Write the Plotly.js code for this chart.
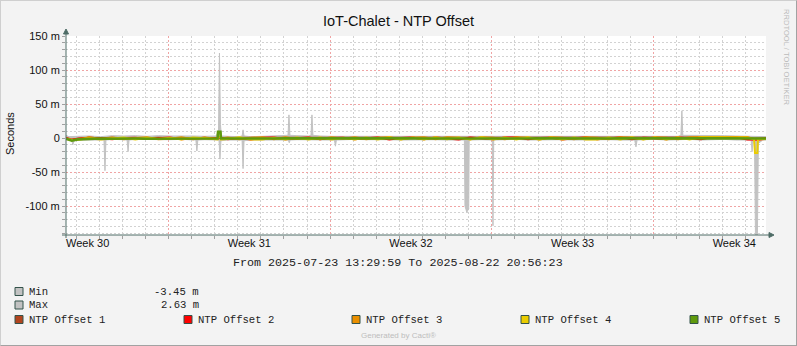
<!DOCTYPE html>
<html><head><meta charset="utf-8">
<script src="https://cdn.plot.ly/plotly-3.0.1.min.js"></script>
<style>
html,body{margin:0;padding:0;background:#f3f3f3;}
#wrap{position:relative;width:797px;height:346px;overflow:hidden;}
#chart{width:797px;height:346px;}
#frame{position:absolute;left:0;top:0;width:797px;height:346px;box-sizing:border-box;border:1px solid #cfcfcf;border-right-color:#a2a2a2;border-bottom-color:#a2a2a2;pointer-events:none;}
</style>
</head><body>
<div id="wrap"><div id="chart"></div><div id="frame"></div></div>
<script>
// ---------------- data ----------------
const startTime = '2025-07-23 13:29:59';
const endTime   = '2025-08-22 20:56:23';
const titleText = 'IoT-Chalet - NTP Offset';
const yTitle = 'Seconds';
const periodText = 'From 2025-07-23 13:29:59 To 2025-08-22 20:56:23';

const weekStart  = '2025-07-21';
const weekMid    = ['2025-07-24 12:00', '2025-07-31 12:00', '2025-08-07 12:00', '2025-08-14 12:00', '2025-08-21 12:00'];
const weekLabels = ['Week 30', 'Week 31', 'Week 32', 'Week 33', 'Week 34'];

const yTickVals = [-100, -50, 0, 50, 100, 150];          // milli-seconds
const yTickText = ['-100 m', '-50 m', '0', '50 m', '100 m', '150 m'];

// hours after startTime; values in milli-seconds
const maxHours = [0, 3, 12, 24, 36, 48, 60, 72, 84, 96, 108, 120, 132, 144, 156, 158.5, 159.5, 160.5, 161.5, 168,
  180, 183, 184, 185, 192, 204, 216, 228, 230.7, 231.7, 232.7, 240, 252, 254.6, 255.6, 256.6, 264, 276, 288, 300,
  312, 324, 336, 348, 360, 372, 384, 396, 408, 420, 432, 444, 456, 468, 480, 492, 504, 516, 528, 540,
  552, 564, 576, 588, 600, 612, 624, 636, 639, 640, 641, 648, 660, 672, 684, 696, 708, 720, 727.44];
const maxValues = [4, 2, 2.5, 3, 2, 3.5, 3, 3.5, 2.5, 3.5, 3, 3.5, 3, 2.5, 3, 10, 125, 20, 3, 2.5,
  2, 3, 12, 3, 2, 2.5, 3, 3, 4, 34, 4, 3.5, 3, 4, 34, 4, 3, 2.5, 2.5, 3,
  2, 2.5, 3, 2.5, 3, 2.5, 3, 2.5, 3, 2, 2, 3, 2.5, 2, 3, 2.5, 2, 2.5, 3, 2.5,
  2, 2.5, 2.5, 2, 2.5, 2, 3, 2.5, 4, 40, 4, 4, 4.5, 4, 3.5, 3, 3, 3, 2];

const minHours = [0, 6, 7, 8.5, 12, 24, 36, 39.5, 40.5, 41.5, 48, 60, 63.5, 64.5, 65.5, 72, 84, 96, 108, 120,
  132, 135, 136, 137, 144, 156, 159, 160, 161, 168, 180, 183, 184, 185, 192, 204, 216, 228, 231, 232,
  233, 240, 252, 264, 276, 279, 280, 281, 288, 300, 312, 324, 336, 348, 360, 372, 384, 396, 408, 414,
  414.6, 416.5, 418.5, 419, 432, 443, 443.7, 444.5, 456, 468, 480, 492, 504, 516, 528, 540, 552, 564, 576, 591,
  592.3, 593.5, 600, 612, 624, 636, 648, 660, 672, 684, 696, 708, 712, 713, 714, 715.5, 716.5, 718.5, 719.5, 724, 727.44];
const minValues = [-3, -2, -10, -4, -3, -2.5, -3, -3, -48, -3, -2, -2.5, -3, -20, -3, -2, -2.5, -2, -2.5, -2,
  -3, -3, -19, -3, -2.5, -3, -3, -31, -4, -3, -3, -3, -45, -4, -3, -2.5, -3, -3, -3, -7,
  -3, -2.5, -3, -2.5, -3, -3, -12, -3, -2.5, -2, -2.5, -2, -2.5, -3, -2.5, -3, -2.5, -3, -2.5, -3,
  -100, -109, -104, -3, -2.5, -3, -129, -3, -2.5, -2, -3, -2.5, -3, -2.5, -3, -2.5, -3, -2.5, -3, -3,
  -13, -3, -2.5, -2, -3, -2.5, -2, -3, -2.5, -2, -3, -3, -3, -20, -3, -3, -146, -146, -8, -3, -3];

const lineHours = [0, 6, 12, 24, 36, 48, 60, 72, 84, 96, 108, 120, 132, 144, 156, 157.5, 158, 160.5, 161, 168,
  180, 192, 204, 216, 228, 240, 252, 264, 276, 288, 300, 312, 324, 336, 348, 360, 372, 384, 396, 408,
  420, 432, 444, 456, 468, 480, 492, 504, 516, 528, 540, 552, 564, 576, 588, 600, 612, 624, 636, 648,
  660, 672, 684, 696, 708, 715, 716, 718.5, 719, 727.44];

const ntp1 = [0, -2, -1, 0.3, -0.3, 0.5, -0.2, 0.2, -0.5, 0.3,
  0, -0.3, 0.4, -0.2, 0.2, 0.2, 0.5, 0.5, 0, 0.3,
  -0.2, 0.3, -0.3, 0.2, 0.4, -0.2, 0.3, 0, -0.3, 0.2,
  0.3, -0.2, 0.2, 0, -0.3, 0.4, 0.2, -0.2, 0.3, 0,
  -0.3, 0.2, 0.4, -0.2, 0, 0.3, -0.3, 0.2, 0, 0.3,
  -0.2, 0.3, 0, -0.2, 0.4, 0.2, -0.3, 0, 0.2, 0.3,
  0.8, 1, 0.8, 0.5, 0, -1, -1, -1, -0.5, 0];
const ntp2 = [0.3, -3, -1, 0.5, -0.5, -1.8, 0.2, 0.5, -1.6, -0.2,
  0.6, -1.8, -0.4, 0.5, -1.5, -1.5, 1, 1, 0.2, -1.8,
  0, -2.2, 0.3, 0.6, -1.8, -0.2, 0.6, -1.8, 0, 0.5,
  -1.8, -0.3, 0.6, -2, 0, 0.6, -1.8, 0.7, -0.2, -2.2,
  0.6, -0.2, -1.8, 0.6, 0.7, -1.8, 0, 0.5, -2.2, -0.2,
  0.6, -1.8, 0, 0.7, -1.8, 0.5, -0.2, -1.8, 0.7, 0,
  -1.8, 1.6, 1.8, 1.4, -2.2, -2.8, -3, -3, -2.5, -1];
const ntp3 = [-0.5, -3, -2, 1, -1.5, 0.8, -1.8, 0.2, 1, -1.8,
  -1.2, 1, -1.8, 0.6, -1, -1, 1.5, 1.5, -1.2, 0.6,
  -1.8, 0.4, 1, -1.8, 1, -1.6, 0.5, -1.8, 1, -1.2,
  1, -1.8, 0.4, 1, -1.8, 0.5, 1, -1.8, 1, 0.3,
  -1.8, 1, 0.4, -1.8, 1, 0.5, -2, 1, 0.3, -1.8,
  1, 0.4, -1.8, 1, 0.5, -1.8, 1, 0.3, -1.8, 1,
  1.6, 2, 1.6, 1.2, 1.4, -1.5, -1.5, -1.5, -1.5, -1];
const ntp4 = [-1.5, -3, -2.5, -0.5, -2, -0.5, 0.8, -2, 0.2, -1.5,
  0.2, -2, 0.8, -0.5, -2, -2, 2, 1, -2.2, -1.5,
  1, -2.2, -2, 0.2, -2, 0.8, -2.2, 0.8, -2, 0.2,
  -2.2, 0.6, -2, 1, -2.2, 0.8, -2, 1, -1.8, 0.8,
  -2, 1, -2, 0.8, -2.2, 1, -2, 0.6, -2.2, 0.8,
  -2, -2.2, 0.8, -2, 1, -2, 0.6, -2.2, 1, -2,
  1.2, 1, 1.5, 1.2, 0.8, -2, -22, -22, -2, -1.5];
const ntp5 = [-1, -4, -2, -1, -0.8, -1, -0.6, -0.8, -1, -0.8,
  -0.9, -1, -0.7, -0.8, -0.8, -0.8, 9, 9, -0.5, -0.6,
  -1, -1.5, -1.2, -0.8, -0.6, -0.5, -0.7, -0.6, -0.5, -0.8,
  -0.7, -0.6, -0.7, -0.5, -0.6, -0.5, -0.7, -0.8, -0.6, -0.5,
  -0.6, -0.7, -0.6, -0.5, -0.8, -0.7, -0.6, -0.8, -1, -0.8,
  -0.7, -0.6, -0.8, -0.5, -0.6, -0.8, -0.7, -0.6, -0.8, -0.7,
  -0.5, -0.6, -0.3, -0.2, -0.6, -1, -1, -1, -0.8, -0.8];

const seriesNames  = ['NTP Offset 1', 'NTP Offset 2', 'NTP Offset 3', 'NTP Offset 4', 'NTP Offset 5'];
const seriesColors = ['#B1441E', '#FF0000', '#EA8F00', '#EACC00', '#5F9A0C'];
const statNames  = ['Min', 'Max'];
const statValues = ['-3.45 m', '2.63 m'];
const statColor = '#C2C2C2';

// ---------------- helpers ----------------
const startMs = Date.UTC(2025, 6, 23, 13, 29, 59);
const toDate = h => new Date(startMs + h * 3600000).toISOString().replace('T', ' ').slice(0, 19);

const W = 797, H = 346, L = 66, R = 766, T = 36, B = 235;
const px = p => (p - L) / (R - L);
const py = p => (B - p) / (B - T);

const SANS = 'Liberation Sans, Arial, sans-serif';
const MONO = 'Liberation Mono, Courier New, monospace';
const AX = '#4E6C66';
const RED_GRID = '#F0A4A4';
const GRAY_GRID = '#D2D2D2';
const DASH = '2px,2px';
const Y_RANGE = [-142.6, 150];
const DAY = 86400000, WEEK = 7 * DAY;

// default plotly label -> label of the reference
const yAlias = {};
yTickVals.forEach((v, i) => { yAlias[v < 0 ? '\u2212' + Math.abs(v) : String(v)] = yTickText[i]; });
// minor (10 m) grid steps that are not major (50 m) steps
const yMinor = [];
for (let v = -140; v <= 150; v += 10) if (v % 50 !== 0) yMinor.push(v);

// ---------------- traces ----------------
const traces = [];
traces.push({x: maxHours.map(toDate), y: maxValues, type: 'scatter', mode: 'lines', fill: 'tozeroy',
  fillcolor: statColor, line: {color: statColor, width: 1}, hoverinfo: 'skip', showlegend: false});
traces.push({x: minHours.map(toDate), y: minValues, type: 'scatter', mode: 'lines', fill: 'tozeroy',
  fillcolor: statColor, line: {color: statColor, width: 1}, hoverinfo: 'skip', showlegend: false});
[ntp1, ntp2, ntp3, ntp4, ntp5].forEach((vals, i) => {
  traces.push({x: lineHours.map(toDate), y: vals, type: 'scatter', mode: 'lines', name: seriesNames[i],
    line: {color: seriesColors[i], width: i === 4 ? 2.6 : 2}, hoverinfo: 'skip', showlegend: false});
});
// carrier for the overlay x axis that holds the red weekly grid
traces.push({x: weekMid, y: weekMid.map(() => null), xaxis: 'x2', type: 'scatter', mode: 'lines',
  hoverinfo: 'skip', showlegend: false});

// ---------------- decorations ----------------
const shapes = [];
const annotations = [];
shapes.push({type: 'line', xref: 'paper', yref: 'paper', x0: px(62), x1: px(770), y0: 0, y1: 0, line: {color: AX, width: 1}});
shapes.push({type: 'path', xref: 'paper', yref: 'paper', fillcolor: AX, line: {color: AX, width: 1},
  path: `M ${px(769)} ${py(232.5)} L ${px(774)} ${py(235)} L ${px(769)} ${py(237.5)} Z`});
shapes.push({type: 'line', xref: 'paper', yref: 'paper', x0: 0, x1: 0, y0: py(238), y1: py(32), line: {color: AX, width: 1}});
shapes.push({type: 'path', xref: 'paper', yref: 'paper', fillcolor: AX, line: {color: AX, width: 1},
  path: `M ${px(63.5)} ${py(34)} L ${px(66)} ${py(29)} L ${px(68.5)} ${py(34)} Z`});

const sq = (x, yc, color) => shapes.push({type: 'rect', xref: 'paper', yref: 'paper',
  x0: px(x), x1: px(x + 8), y0: py(yc + 4), y1: py(yc - 4), fillcolor: color, line: {color: '#33524A', width: 1}});
const txt = (x, y, text, opts) => annotations.push(Object.assign({xref: 'paper', yref: 'paper', x: px(x), y: py(y),
  text: text, showarrow: false, xanchor: 'left', yanchor: 'middle', borderpad: 0,
  font: {family: MONO, size: 10.6, color: '#222'}}, opts || {}));

const statRows = [291.5, 305];
statNames.forEach((n, i) => {
  sq(15, statRows[i], statColor);
  txt(28, statRows[i], n);
  txt(200, statRows[i], statValues[i], {xanchor: 'right'});
});
const legendX = [15, 184, 352, 521, 690];
seriesNames.forEach((n, i) => {
  sq(legendX[i], 319.5, seriesColors[i]);
  txt(legendX[i] + 13, 319.5, n);
});

txt(398, 263, periodText, {xanchor: 'center', font: {family: MONO, size: 11.7, color: '#222'}});
txt(398.5, 335.5, 'Generated by Cacti®', {xanchor: 'center', font: {family: SANS, size: 8, color: '#BDBDBD'}});
txt(787, 57, 'RRDTOOL / TOBI OETIKER', {xanchor: 'center', textangle: 90, font: {family: SANS, size: 7.6, color: '#BBBBBB'}});
txt(10, 134, yTitle, {xanchor: 'center', textangle: -90, font: {family: SANS, size: 11, color: '#111'}});

const layout = {
  width: W, height: H,
  margin: {l: L, r: W - R, t: T, b: H - B, pad: 0},
  paper_bgcolor: '#F3F3F3', plot_bgcolor: '#FFFFFF',
  showlegend: false,
  title: {text: titleText, font: {family: SANS, size: 14.5, color: '#111'}, xref: 'container', yref: 'container',
    x: 0.5, xanchor: 'center', y: 1 - 21 / H, yanchor: 'middle'},
  // main x: week labels + gray daily grid
  xaxis: {type: 'date', range: [startTime, endTime], tickmode: 'array', tickvals: weekMid, ticktext: weekLabels,
    ticks: '', showgrid: false,
    minor: {tick0: weekStart, dtick: DAY, showgrid: true, gridcolor: GRAY_GRID, griddash: DASH, gridwidth: 1,
      ticks: 'outside', ticklen: 3, tickcolor: '#A0A0A0'},
    showline: false, zeroline: false, tickfont: {family: SANS, size: 11, color: '#111'}, fixedrange: true},
  // overlay x: red weekly grid drawn above the gray one
  xaxis2: {type: 'date', overlaying: 'x', anchor: 'y', side: 'bottom', range: [startTime, endTime],
    tickmode: 'linear', tick0: weekStart, dtick: WEEK, showticklabels: false, ticks: 'outside', ticklen: 3,
    tickcolor: '#A0A0A0', showgrid: true, gridcolor: RED_GRID, griddash: DASH, gridwidth: 1,
    showline: false, zeroline: false, fixedrange: true},
  yaxis: {range: Y_RANGE, tickmode: 'linear', tick0: 0, dtick: 50, labelalias: yAlias,
    ticks: 'outside', ticklen: 3, tickcolor: '#A0A0A0',
    showgrid: true, gridcolor: RED_GRID, griddash: DASH, gridwidth: 1,
    minor: {tickmode: 'array', tickvals: yMinor, showgrid: true, gridcolor: GRAY_GRID, griddash: DASH, gridwidth: 1,
      ticks: 'outside', ticklen: 3, tickcolor: '#A0A0A0'},
    showline: false, zeroline: false, tickfont: {family: SANS, size: 11, color: '#111'}, fixedrange: true},
  shapes: shapes,
  annotations: annotations
};

Plotly.newPlot('chart', traces, layout, {staticPlot: true, displayModeBar: false});
</script>
</body></html>
